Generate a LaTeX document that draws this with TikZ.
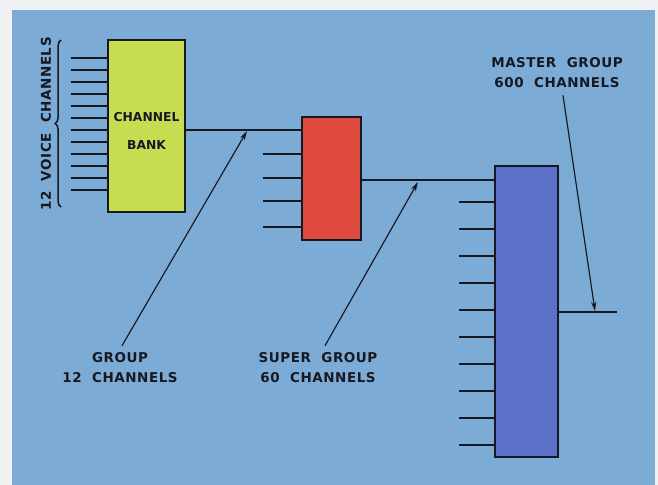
\documentclass[tikz,border=0pt]{standalone}
\usepackage{fontspec}
\newfontfamily\lettering{DejaVu Sans}[LetterSpace=4, BoldFont={DejaVu Sans Bold}]
\newfontfamily\boxfont{DejaVu Sans}[BoldFont={DejaVu Sans Bold}]
\usetikzlibrary{arrows.meta, decorations.pathreplacing}
\definecolor{paper}{RGB}{240,241,243}
\definecolor{sky}{RGB}{124,172,214}
\definecolor{bankfill}{RGB}{200,220,82}
\definecolor{groupfill}{RGB}{222,74,62}
\definecolor{masterfill}{RGB}{92,112,200}
\definecolor{ink}{RGB}{22,24,34}

\begin{document}
\begin{tikzpicture}[
        x=0.3mm, y=-0.3mm,
        unit/.style={draw=ink, line width=2pt, rectangle, inner sep=0pt},
        stub/.style={draw=ink, line width=2pt},
        wire/.style={draw=ink, line width=2.4pt},
        pointer/.style={draw=ink, line width=1pt, -{Stealth[length=8pt, width=4.5pt]}},
        caption/.style={font=\lettering\bfseries\fontsize{11.5}{17}\selectfont, text=ink, align=center, inner sep=0pt}
    ]
    % background
    \fill[paper] (0,0) rectangle (658,485);
    \fill[sky] (12,10) rectangle (655,485);

    % the three units
    \node[unit, fill=bankfill, minimum width=23.1mm, minimum height=51.6mm] (bank) at (146.5,126) {};
    \node[font=\boxfont\bfseries\fontsize{10.5}{24}\selectfont, text=ink, align=center, inner sep=0pt]
        (banktxt) at ([yshift=-1.4mm]bank.center) {CHANNEL\\BANK};
    \node[unit, fill=groupfill, minimum width=17.7mm, minimum height=36.9mm] (grp) at (331.5,178.5) {};
    \node[unit, fill=masterfill, minimum width=18.9mm, minimum height=87.3mm] (master) at (526.5,311.5) {};

    % voice channels in
    \foreach \y in {58,70,...,190}
        \draw[stub] (bank.west |- 0,\y) -- ++(-36,0);
    \foreach \y in {154,178,201,227}
        \draw[stub] (grp.west |- 0,\y) -- ++(-38,0);
    \foreach \y in {202,229,...,445}
        \draw[stub] (master.west |- 0,\y) -- ++(-35,0);

    % links between units
    \draw[wire] (bank.east |- 0,130) -- (grp.west |- 0,130);
    \draw[wire] (grp.east |- 0,180) -- (master.west |- 0,180);
    \coordinate (out) at (617,312);
    \draw[wire] (master.east |- out) -- (out);

    % brace and labels
    \coordinate (braceB) at (61,207);
    \coordinate (braceT) at (61,40);
    \draw[ink, line width=1.3pt, decorate, decoration={brace, amplitude=5pt}] (braceB) -- (braceT);
    \node[caption, rotate=90] (voice) at (46,124) {12\ \ VOICE\ \ CHANNELS};

    \node[caption] (grplbl) at (120,368) {GROUP\\12\ \ CHANNELS};
    \node[caption] (suplbl) at (318,368) {SUPER\ \ GROUP\\60\ \ CHANNELS};
    \node[caption] (mstlbl) at (557,73) {MASTER\ \ GROUP\\600\ \ CHANNELS};

    \coordinate (grptip) at (247,131);
    \coordinate (suptip) at (418,182);
    \coordinate (msttip) at (595,311);
    \draw[pointer] (grplbl.north) ++(2,-7) -- (grptip);
    \draw[pointer] (suplbl.north) ++(7,-7) -- (suptip);
    \draw[pointer] (mstlbl.south) ++(6,7) -- (msttip);

\end{tikzpicture}
\end{document}
